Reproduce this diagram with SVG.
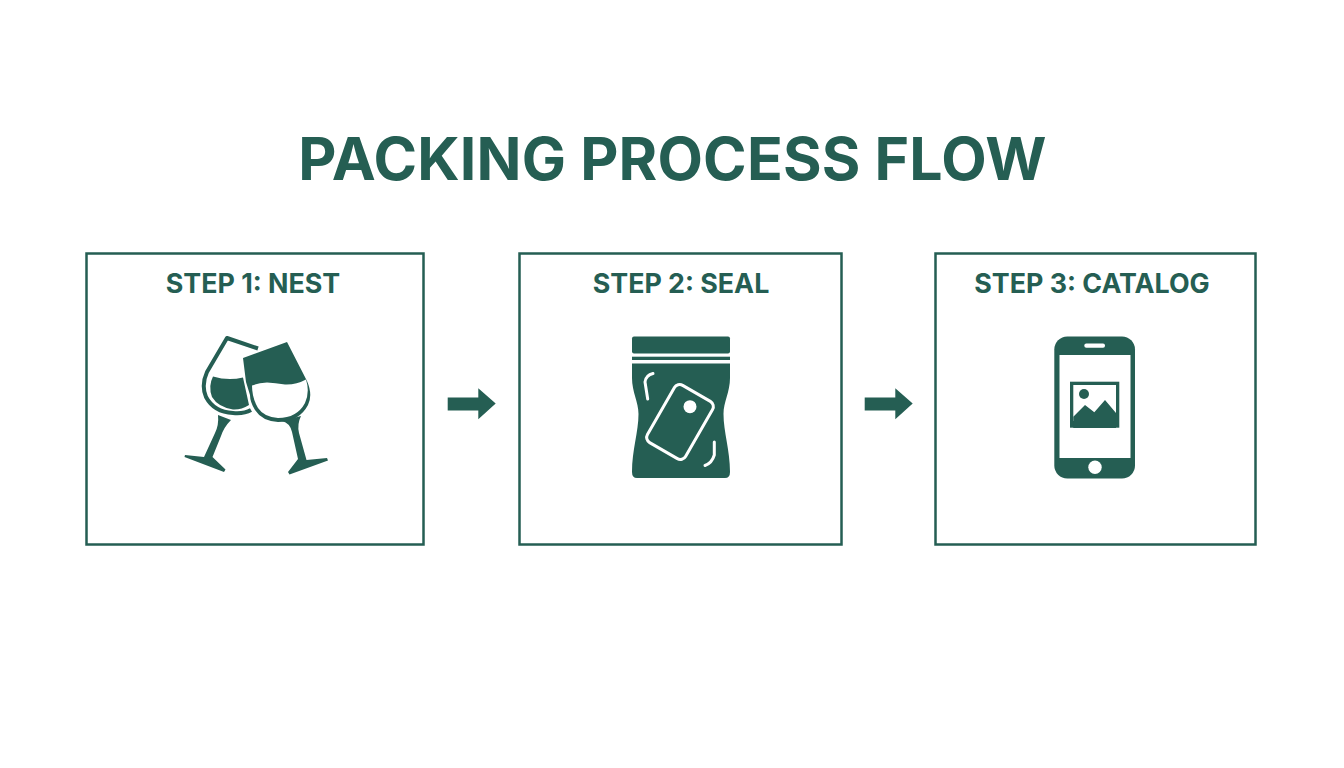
<svg xmlns="http://www.w3.org/2000/svg" width="1344" height="768" viewBox="0 0 1344 768">
<style>
.box{fill:none;stroke:#255e53;stroke-width:2.5}
.t{font-family:Inter,"Liberation Sans",sans-serif;font-weight:700;fill:#255e53;text-anchor:middle}
.h{font-size:26.800px}
.f{fill:#255e53}
.w{fill:#fff}
.l{fill:none;stroke:#255e53;stroke-linejoin:round}
.wl{fill:none;stroke:#fff;stroke-linecap:round;stroke-linejoin:round;stroke-width:3}
</style>
<rect width="1344" height="768" fill="#fff"/>
<text id="title" class="t" x="672.500" y="180" font-size="59" letter-spacing="0.15">PACKING PROCESS FLOW</text>
<g id="step1">
<rect class="box" x="86.500" y="253.500" width="337" height="291"/>
<text class="t h" x="253" y="293">STEP 1: NEST</text>
<g id="glass-left">
<path class="l" stroke-width="4" d="M258 348.500L227 338L207 372Q201 385 206 397Q214 412 233 413Q244 414 251 410"/>
<path class="f" d="M213 376.500Q228 381 243 377.500L249 405Q241 410 233 409.500Q218 407 212 397Q208 386 213 376.500Z"/>
<path class="f" d="M218 415Q219 425 215 433L204 457L185 455L184.500 457L224 472L225.500 469.500L212.500 457L221 436Q224 427 231 420Z"/>
</g>
<g id="glass-right">
<path class="f" d="M243 358L287 342L307 381Q313 395 308 405Q299 422 278 422Q262 421 255 410Q250 402 250 395L246 382Z"/>
<path class="w" d="M252 385.500Q258 383 267 382.500Q275 383 285 384.500Q296 385 306 379.500Q310 392 305 403Q297 418 278 418Q264 417 258 408Q252 398 252 385.500Z"/>
<path class="f" d="M282 421Q290 423 292 432L298 459L288 472L289.500 474.500L328 460.500L327 458L306.500 460L299 433Q297 424 301 416Z"/>
</g>
</g>
<g id="step2">
<rect class="box" x="519.500" y="253.500" width="322" height="291"/>
<text class="t h" x="681" y="293">STEP 2: SEAL</text>
<g id="bag">
<rect class="f" x="632" y="336.500" width="98" height="17" rx="2"/>
<rect class="f" x="632" y="356.700" width="98" height="3.300"/>
<path class="f" d="M632 363.500H730V378C730 392 723.500 402 723.500 414C723.500 432 730 450 730 472Q730 478 725 478H637Q632 478 632 472C632 450 638.500 432 638.500 414C638.500 402 632 392 632 378Z"/>
<rect class="wl" x="658" y="389" width="44" height="66" rx="6" transform="rotate(30 680 422)"/>
<circle class="w" cx="690" cy="406.700" r="6.500"/>
<path class="wl" d="M653 373.500Q646 375 645 382L647.700 399"/>
<path class="wl" d="M714.300 442L714.300 455Q712 463 705 465.500"/>
</g>
</g>
<g id="step3">
<rect class="box" x="935.500" y="253.500" width="320" height="291"/>
<text class="t h" x="1092" y="293">STEP 3: CATALOG</text>
<g id="phone">
<rect class="f" x="1054.300" y="336.500" width="80.700" height="142" rx="13"/>
<rect class="w" x="1059.500" y="355" width="71" height="103"/>
<rect class="w" x="1084.300" y="343.500" width="20.700" height="4.300" rx="2"/>
<circle class="w" cx="1095" cy="467.300" r="6.700"/>
<rect class="f" x="1070" y="381.700" width="49.300" height="46"/>
<rect class="w" x="1073.300" y="385" width="42.700" height="36"/>
<circle class="f" cx="1084" cy="394" r="5"/>
<path class="f" d="M1073.300 416.700L1085 405L1094.300 412.300L1105 400L1116 413V428H1073.300Z"/>
</g>
</g>
<g id="connectors">
<path class="f" d="M447.700 397.500H478.300V388.300L495.700 403.500L478.300 419.300V410.500H447.700Z"/>
<path class="f" d="M864.700 397.500H895.300V388.300L912.700 403.500L895.300 419.300V410.500H864.700Z"/>
</g>
</svg>
